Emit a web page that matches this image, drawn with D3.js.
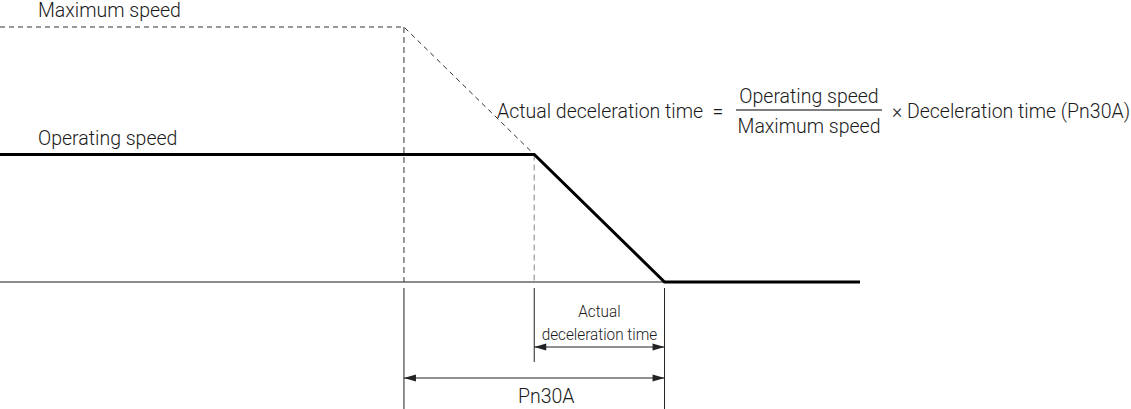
<!DOCTYPE html>
<html><head><meta charset="utf-8">
<script src="https://cdn.jsdelivr.net/npm/d3@7"></script>
<style>
html,body{margin:0;padding:0;background:#fff;}
svg text{font-family:Roboto,"Liberation Sans",sans-serif;font-weight:300;fill:#1a1a1a;}
</style></head>
<body>
<script>
// ---- data (time in arbitrary units, speed in % of maximum) ----
const speedLabels = ["Maximum speed", "Operating speed"];
const speedValues = [100, 50];
const maxProfileTimes = [0, 3.1, 4.1];
const maxProfileSpeeds = [100, 100, 50];
const opProfileTimes = [0, 4.1, 5.1, 6.6];
const opProfileSpeeds = [50, 50, 0, 0];
const markerTimes = [3.1, 4.1, 5.1];      // Pn30A start, actual decel start, stop
const spanLabels = ["Actual", "deceleration time"];
const pn30aLabel = "Pn30A";
const formulaLeft = "Actual deceleration time";
const formulaNum = "Operating speed";
const formulaDen = "Maximum speed";
const formulaRight = "× Deceleration time (Pn30A)";

const W = 1131, H = 409;
const svg = d3.select("body").append("svg").attr("width", W).attr("height", H);
const x = d3.scaleLinear().domain([0, 6.6]).range([0, 860]);
const y = d3.scaleLinear().domain([0, 100]).range([282, 27]);
const line = d3.line().x((d) => x(d[0])).y((d) => y(d[1]));
const FS = "19.5px";

// baseline axis
svg.append("line").attr("x1", x(0)).attr("x2", x(markerTimes[2])).attr("y1", y(0)).attr("y2", y(0))
  .attr("stroke", "#666").attr("stroke-width", 1.5);

// vertical dashed guides
svg.append("line").attr("x1", x(markerTimes[0])).attr("x2", x(markerTimes[0]))
  .attr("y1", y(speedValues[0])).attr("y2", y(0))
  .attr("stroke", "#333").attr("stroke-width", 1).attr("stroke-dasharray", "6,4");
svg.append("line").attr("x1", x(markerTimes[1])).attr("x2", x(markerTimes[1]))
  .attr("y1", y(speedValues[1])).attr("y2", y(0))
  .attr("stroke", "#999").attr("stroke-width", 1.2).attr("stroke-dasharray", "6,4");

// max speed profile (dashed)
svg.append("path").datum(d3.zip(maxProfileTimes, maxProfileSpeeds)).attr("d", line)
  .attr("fill", "none").attr("stroke", "#333").attr("stroke-width", 1).attr("stroke-dasharray", "5,4");

// operating speed profile (solid, thick)
svg.append("path").datum(d3.zip(opProfileTimes, opProfileSpeeds)).attr("d", line)
  .attr("fill", "none").attr("stroke", "#000").attr("stroke-width", 3);

// extension lines below axis
const extBottoms = [409, 362, 409];
markerTimes.forEach((t, i) => {
  svg.append("line").attr("x1", x(t)).attr("x2", x(t)).attr("y1", y(0) + 6).attr("y2", extBottoms[i])
    .attr("stroke", "#222").attr("stroke-width", 1);
});

// arrows
function dimArrow(t0, t1, yy) {
  const x0 = x(t0), x1 = x(t1), L = 12, hw = 3.5;
  svg.append("line").attr("x1", x0).attr("x2", x1).attr("y1", yy).attr("y2", yy)
    .attr("stroke", "#222").attr("stroke-width", 1);
  svg.append("path").attr("d", `M${x0},${yy}L${x0 + L},${yy - hw}L${x0 + L},${yy + hw}Z`).attr("fill", "#222");
  svg.append("path").attr("d", `M${x1},${yy}L${x1 - L},${yy - hw}L${x1 - L},${yy + hw}Z`).attr("fill", "#222");
}
dimArrow(markerTimes[1], markerTimes[2], 347);
dimArrow(markerTimes[0], markerTimes[2], 378);

// labels under the axis (condensed look)
const midA = (x(markerTimes[1]) + x(markerTimes[2])) / 2;
[[spanLabels[0], 317], [spanLabels[1], 340]].forEach(([s, yy]) => {
  svg.append("g").attr("transform", `translate(${midA},${yy}) scale(0.9,1)`)
    .append("text").attr("text-anchor", "middle").style("font-size", "17px").text(s);
});
svg.append("text").attr("x", (x(markerTimes[0]) + x(markerTimes[2])) / 2 + 12).attr("y", 403)
  .attr("text-anchor", "middle").style("font-size", FS).text(pn30aLabel);

svg.append("text").attr("x", 38).attr("y", 17).style("font-size", FS).text(speedLabels[0]);
svg.append("text").attr("x", 38).attr("y", 145).style("font-size", FS).text(speedLabels[1]);

// formula
const fy = 118;
svg.append("text").attr("x", 497).attr("y", fy).style("font-size", FS).text(formulaLeft);
svg.append("text").attr("x", 718).attr("y", fy).attr("text-anchor", "middle").style("font-size", FS).text("=");
const fracCx = 809;
svg.append("text").attr("x", fracCx).attr("y", fy - 15).attr("text-anchor", "middle").style("font-size", FS).text(formulaNum);
svg.append("line").attr("x1", 736).attr("x2", 882).attr("y1", fy - 8).attr("y2", fy - 8).attr("stroke", "#555").attr("stroke-width", 1.3);
svg.append("text").attr("x", fracCx).attr("y", fy + 15).attr("text-anchor", "middle").style("font-size", FS).text(formulaDen);
svg.append("text").attr("x", 1130).attr("y", fy).attr("text-anchor", "end").style("font-size", FS).text(formulaRight);
</script>
</body></html>
